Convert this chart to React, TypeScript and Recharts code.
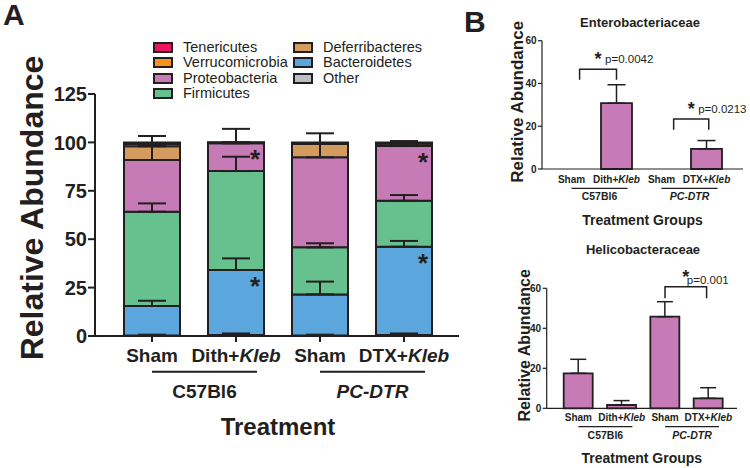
import React from 'react';
import { ComposedChart, Bar, Line, XAxis, YAxis, ErrorBar, LabelList, ReferenceLine, Legend } from 'recharts';

const INK = '#231F20';
const FONT = '"Liberation Sans", Arial, Helvetica, sans-serif';

// categories shared by all panels
const treatmentKeys = ['c57-sham', 'c57-kleb', 'dtr-sham', 'dtr-kleb'];
const treatments = ['Sham', 'Dith+', 'Sham', 'DTX+'];
const treatmentItalic = ['', 'Kleb', '', 'Kleb'];
const strains = ['C57Bl6', 'PC-DTR'];
const strainItalic = [false, true];

// panel A: phyla, stacked bottom to top
const phyla = ['Other', 'Bacteroidetes', 'Firmicutes', 'Proteobacteria', 'Deferribacteres', 'Verrucomicrobia', 'Tenericutes'];
const phylumColors = ['#BCBEC0', '#5BA7DD', '#66C18E', '#C77BB6', '#D39C5E', '#F7941D', '#EC1561'];
const otherPct = [0.3, 0.5, 0.3, 0.5];
const bacteroidetesPct = [15.2, 33.6, 21.2, 45.6];
const firmicutesPct = [48.7, 51.1, 24.3, 23.8];
const proteobacteriaPct = [26.7, 14.3, 46.5, 28.2];
const deferribacteresPct = [7.1, 0.3, 6.9, 1.2];
const verrucomicrobiaPct = [1.2, 0.1, 0.5, 0.4];
const tenericutesPct = [0.8, 0.1, 0.3, 0.3];

const otherErr = [0.4, 0.8, 0.4, 0.8];
const bacteroidetesErr = [2.7, 6.0, 6.6, 3.0];
const firmicutesErr = [4.3, 7.4, 2.1, 2.9];
const proteobacteriaErr = [12.4, 7.5, 12.4, 2.6];
const deferribacteresErr = [0.6, 0.3, 0.5, 0.4];

const bacteroidetesStars = ['', '*', '', '*'];
const proteobacteriaStars = ['', '*', '', '*'];

const phylaTicks = [0, 25, 50, 75, 100, 125];
const legendColumns = [
  ['Tenericutes', 'Verrucomicrobia', 'Proteobacteria', 'Firmicutes'],
  ['Deferribacteres', 'Bacteroidetes', 'Other'],
];

// panel B
const enteroMean = [0, 30.8, 0, 9.4];
const enteroErr = [0, 8.6, 0, 3.9];
const helicoMean = [17.5, 1.65, 45.8, 5.0];
const helicoErr = [7.0, 2.2, 7.5, 5.3];
const familyTicks = [0, 20, 40, 60];

// significance brackets (from/to in category index units, y/leg in data units)
const enteroBrackets = [
  { from: 0.18, to: 1.0, y: 46.7, leg: 41.7, p: 'p=0.0042' },
  { from: 2.27, to: 3.05, y: 23.4, leg: 18.3, p: 'p=0.0213' },
];
const helicoBrackets = [{ from: 2.0, to: 2.96, y: 60.8, leg: 55, p: 'p=0.001' }];

const stackValues = [otherPct, bacteroidetesPct, firmicutesPct, proteobacteriaPct, deferribacteresPct, verrucomicrobiaPct, tenericutesPct];
const stackErrors: (number[] | null)[] = [otherErr, bacteroidetesErr, firmicutesErr, proteobacteriaErr, deferribacteresErr, null, null];

const phylaRows = treatmentKeys.map((key, i) => {
  const row: any = { key, bactStar: bacteroidetesStars[i], protStar: proteobacteriaStars[i] };
  let top = 0;
  phyla.forEach((p, k) => {
    top += stackValues[k][i];
    row[p] = stackValues[k][i];
    row[p + 'Top'] = top;
    const e = stackErrors[k];
    if (e) row[p + 'Err'] = [0, e[i]];
  });
  return row;
});

const enteroRows = treatmentKeys.map((key, i) => ({ key, mean: enteroMean[i], err: [0, enteroErr[i]] }));
const helicoRows = treatmentKeys.map((key, i) => ({ key, mean: helicoMean[i], err: [0, helicoErr[i]] }));

function TreatmentTick(props: any) {
  const { x, y, index, fontSize, labelDy, lineDy, groupDy, groupLen, lineWidth, groupSize } = props;
  const first = index % 2 === 0;
  const g = Math.floor(index / 2);
  return (
    <g fontFamily={FONT} fontWeight="bold" fill={INK}>
      <text x={x} y={y + labelDy} textAnchor="middle" fontSize={fontSize} fill={INK}>
        {treatments[index]}
        {treatmentItalic[index] && <tspan fontStyle="italic">{treatmentItalic[index]}</tspan>}
      </text>
      {first && (
        <>
          <line x1={x} x2={x + groupLen} y1={y + lineDy} y2={y + lineDy} stroke={INK} strokeWidth={lineWidth} />
          <text x={x + groupLen / 2} y={y + groupDy} textAnchor="middle" fontSize={groupSize} fill={INK}
            fontStyle={strainItalic[g] ? 'italic' : 'normal'}>{strains[g]}</text>
        </>
      )}
    </g>
  );
}

const StarMark = (props: any) => {
  const { x, y, width, value } = props;
  if (!value) return null;
  return (
    <text x={x + width - 9} y={y + 25} textAnchor="middle" fontSize={26} fontWeight="bold" fill={INK} fontFamily={FONT}>
      {value}
    </text>
  );
};

function PhylaLegend() {
  return (
    <div style={{ display: 'flex', fontFamily: FONT, fontSize: 14.5, color: INK, lineHeight: '15.3px' }}>
      {legendColumns.map((col, c) => (
        <div key={c} style={{ width: 140 }}>
          {col.map(name => (
            <div key={name} style={{ display: 'flex', alignItems: 'center', height: 15.3, whiteSpace: 'nowrap' }}>
              <span style={{
                display: 'inline-block', width: 20, height: 11, boxSizing: 'border-box',
                border: `2px solid ${INK}`, background: phylumColors[phyla.indexOf(name)], marginRight: 10,
              }} />
              {name}
            </div>
          ))}
        </div>
      ))}
    </div>
  );
}

function AxisTitle({ viewBox, text, dx = 0, dy, size }: any) {
  return (
    <text x={viewBox.x + viewBox.width / 2 + dx} y={viewBox.y + dy} textAnchor="middle"
      fontFamily={FONT} fontWeight="bold" fontSize={size} fill={INK}>{text}</text>
  );
}

function YTitle({ viewBox, x, dy, size }: any) {
  const cy = viewBox.y + viewBox.height / 2 + dy;
  return (
    <text x={x} y={cy} transform={`rotate(-90, ${x}, ${cy})`} textAnchor="middle"
      fontFamily={FONT} fontWeight="bold" fontSize={size} fill={INK}>Relative Abundance</text>
  );
}

// segment runs from (category i0, leg) to (category i0+1, y); the bracket is drawn from those two points
function Bracket({ x1, y1, x2, y2, b, i0, pDx, pDy }: any) {
  const bw = x2 - x1;
  const left = x1 + (b.from - i0) * bw;
  const right = x1 + (b.to - i0) * bw;
  const mid = (left + right) / 2;
  return (
    <g fontFamily={FONT}>
      <path d={`M${left},${y1}V${y2}H${right}V${y1}`} fill="none" stroke={INK} strokeWidth={1.5} />
      <text x={mid} y={y2 - 4} textAnchor="middle" fontSize={18} fontWeight="bold" fill={INK}>*</text>
      <text x={mid + pDx} y={y2 + pDy} fontSize={11.5} fill={INK}>{b.p}</text>
    </g>
  );
}

function FamilyChart({ rows, brackets, width, height, margin, xHeight, yWidth, padding, barSize, capW, tickProps, pDx, pDy, titleDy, yTitleX, yTitleDy, yTitleSize }: any) {
  return (
    <ComposedChart width={width} height={height} data={rows} margin={margin}>
      <XAxis dataKey="key" height={xHeight} padding={padding} tickLine={false} tickSize={0} tickMargin={0} interval={0}
        axisLine={{ stroke: INK, strokeWidth: 1.2 }}
        tick={<TreatmentTick {...tickProps} />}
        label={{ content: (p: any) => <AxisTitle {...p} text="Treatment Groups" dy={titleDy} size={14} /> }} />
      <YAxis width={yWidth} domain={[0, 60]} ticks={familyTicks} tickSize={4} tickMargin={1.5}
        axisLine={{ stroke: INK, strokeWidth: 1.2 }} tickLine={{ stroke: INK, strokeWidth: 1.2 }}
        tick={{ fontSize: 10, fontWeight: 'bold', fill: INK, fontFamily: FONT }}
        label={{ content: (p: any) => <YTitle {...p} x={yTitleX} dy={yTitleDy} size={yTitleSize} /> }} />
      <Bar dataKey="mean" fill="#C77BB6" stroke={INK} strokeWidth={1.8} barSize={barSize} isAnimationActive={false}>
        <ErrorBar dataKey="err" direction="y" width={capW} stroke={INK} strokeWidth={1.5} />
      </Bar>
      {brackets.map((b: any, i: number) => {
        const i0 = Math.floor(b.from);
        return (
          <ReferenceLine key={i} ifOverflow="visible"
            segment={[{ x: treatmentKeys[i0], y: b.leg }, { x: treatmentKeys[i0 + 1], y: b.y }]}
            shape={(s: any) => <Bracket {...s} b={b} i0={i0} pDx={pDx} pDy={pDy} />} />
        );
      })}
    </ComposedChart>
  );
}

export default function App() {
  return (
    <div style={{ position: 'absolute', left: 0, top: 0, width: 750, height: 468, background: '#fff', fontFamily: FONT }}>
      <div style={{ position: 'absolute', left: 0, top: 0 }}>
        <ComposedChart width={470} height={468} data={phylaRows} margin={{ top: 94, right: 11, left: 0, bottom: 0 }}>
          <XAxis dataKey="key" height={132} padding={{ left: 15, right: 13 }} interval={0}
            tickSize={6} tickMargin={0} axisLine={{ stroke: INK, strokeWidth: 2 }} tickLine={{ stroke: INK, strokeWidth: 2 }}
            tick={<TreatmentTick fontSize={19} labelDy={19.7} lineDy={29.7} groupDy={56} groupLen={105} lineWidth={2} groupSize={19} />}
            label={{ content: (p: any) => <AxisTitle {...p} text="Treatment" dx={1} dy={99} size={24} /> }} />
          <YAxis width={95} domain={[0, 125]} ticks={phylaTicks} tickSize={7} tickMargin={1}
            axisLine={{ stroke: INK, strokeWidth: 2 }} tickLine={{ stroke: INK, strokeWidth: 2 }}
            tick={{ fontSize: 20, fontWeight: 'bold', fill: INK, fontFamily: FONT }}
            label={{ content: (p: any) => <YTitle {...p} x={43} dy={-7} size={32} /> }} />
          <Legend layout="horizontal" verticalAlign="middle" align="center" content={<PhylaLegend />}
            wrapperStyle={{ left: 153, top: 40, width: 300 }} />
          {phyla.map((p, k) => (
            <Bar key={p} dataKey={p} stackId="phyla" fill={phylumColors[k]} stroke={INK} strokeWidth={2}
              barSize={56} isAnimationActive={false}>
              {p === 'Bacteroidetes' && <LabelList dataKey="bactStar" content={StarMark} />}
              {p === 'Proteobacteria' && <LabelList dataKey="protStar" content={StarMark} />}
            </Bar>
          ))}
          {phyla.map((p, k) => stackErrors[k] && (
            <Line key={'e' + p} dataKey={p + 'Top'} stroke="none" dot={false} activeDot={false}
              legendType="none" isAnimationActive={false}>
              <ErrorBar dataKey={p + 'Err'} direction="y" width={14} stroke={INK} strokeWidth={2} />
            </Line>
          ))}
        </ComposedChart>
      </div>

      <div style={{ position: 'absolute', left: 480, top: 0 }}>
        <FamilyChart rows={enteroRows} brackets={enteroBrackets} width={270} height={230}
          margin={{ top: 40.7, right: 7, left: 0, bottom: 0 }} xHeight={61} yWidth={62} padding={{ left: 7, right: 14 }}
          barSize={31} capW={9} pDx={7} pDy={-6} titleDy={56} yTitleX={43} yTitleDy={-3} yTitleSize={17}
          tickProps={{ fontSize: 10, labelDy: 13.7, lineDy: 19.3, groupDy: 31, groupLen: 56, lineWidth: 1.3, groupSize: 10.5 }} />
      </div>

      <div style={{ position: 'absolute', left: 480, top: 230 }}>
        <FamilyChart rows={helicoRows} brackets={helicoBrackets} width={270} height={238}
          margin={{ top: 58.3, right: 13, left: 0, bottom: 0 }} xHeight={59.7} yWidth={66.7} padding={{ left: 10, right: 7 }}
          barSize={29} capW={8} pDx={1} pDy={-3} titleDy={55} yTitleX={50} yTitleDy={-3} yTitleSize={16}
          tickProps={{ fontSize: 10, labelDy: 12.2, lineDy: 18.4, groupDy: 31, groupLen: 54, lineWidth: 1.3, groupSize: 10.5 }} />
      </div>

      <svg width={750} height={468} style={{ position: 'absolute', left: 0, top: 0, pointerEvents: 'none' }}>
        <g fontFamily={FONT} fontWeight="bold" fill={INK}>
          <text x={3} y={25} fontSize={30}>A</text>
          <text x={464} y={31.7} fontSize={30}>B</text>
          <text x={640} y={26.5} fontSize={13} textAnchor="middle">Enterobacteriaceae</text>
          <text x={643} y={254} fontSize={13} textAnchor="middle">Helicobacteraceae</text>
        </g>
      </svg>
    </div>
  );
}
